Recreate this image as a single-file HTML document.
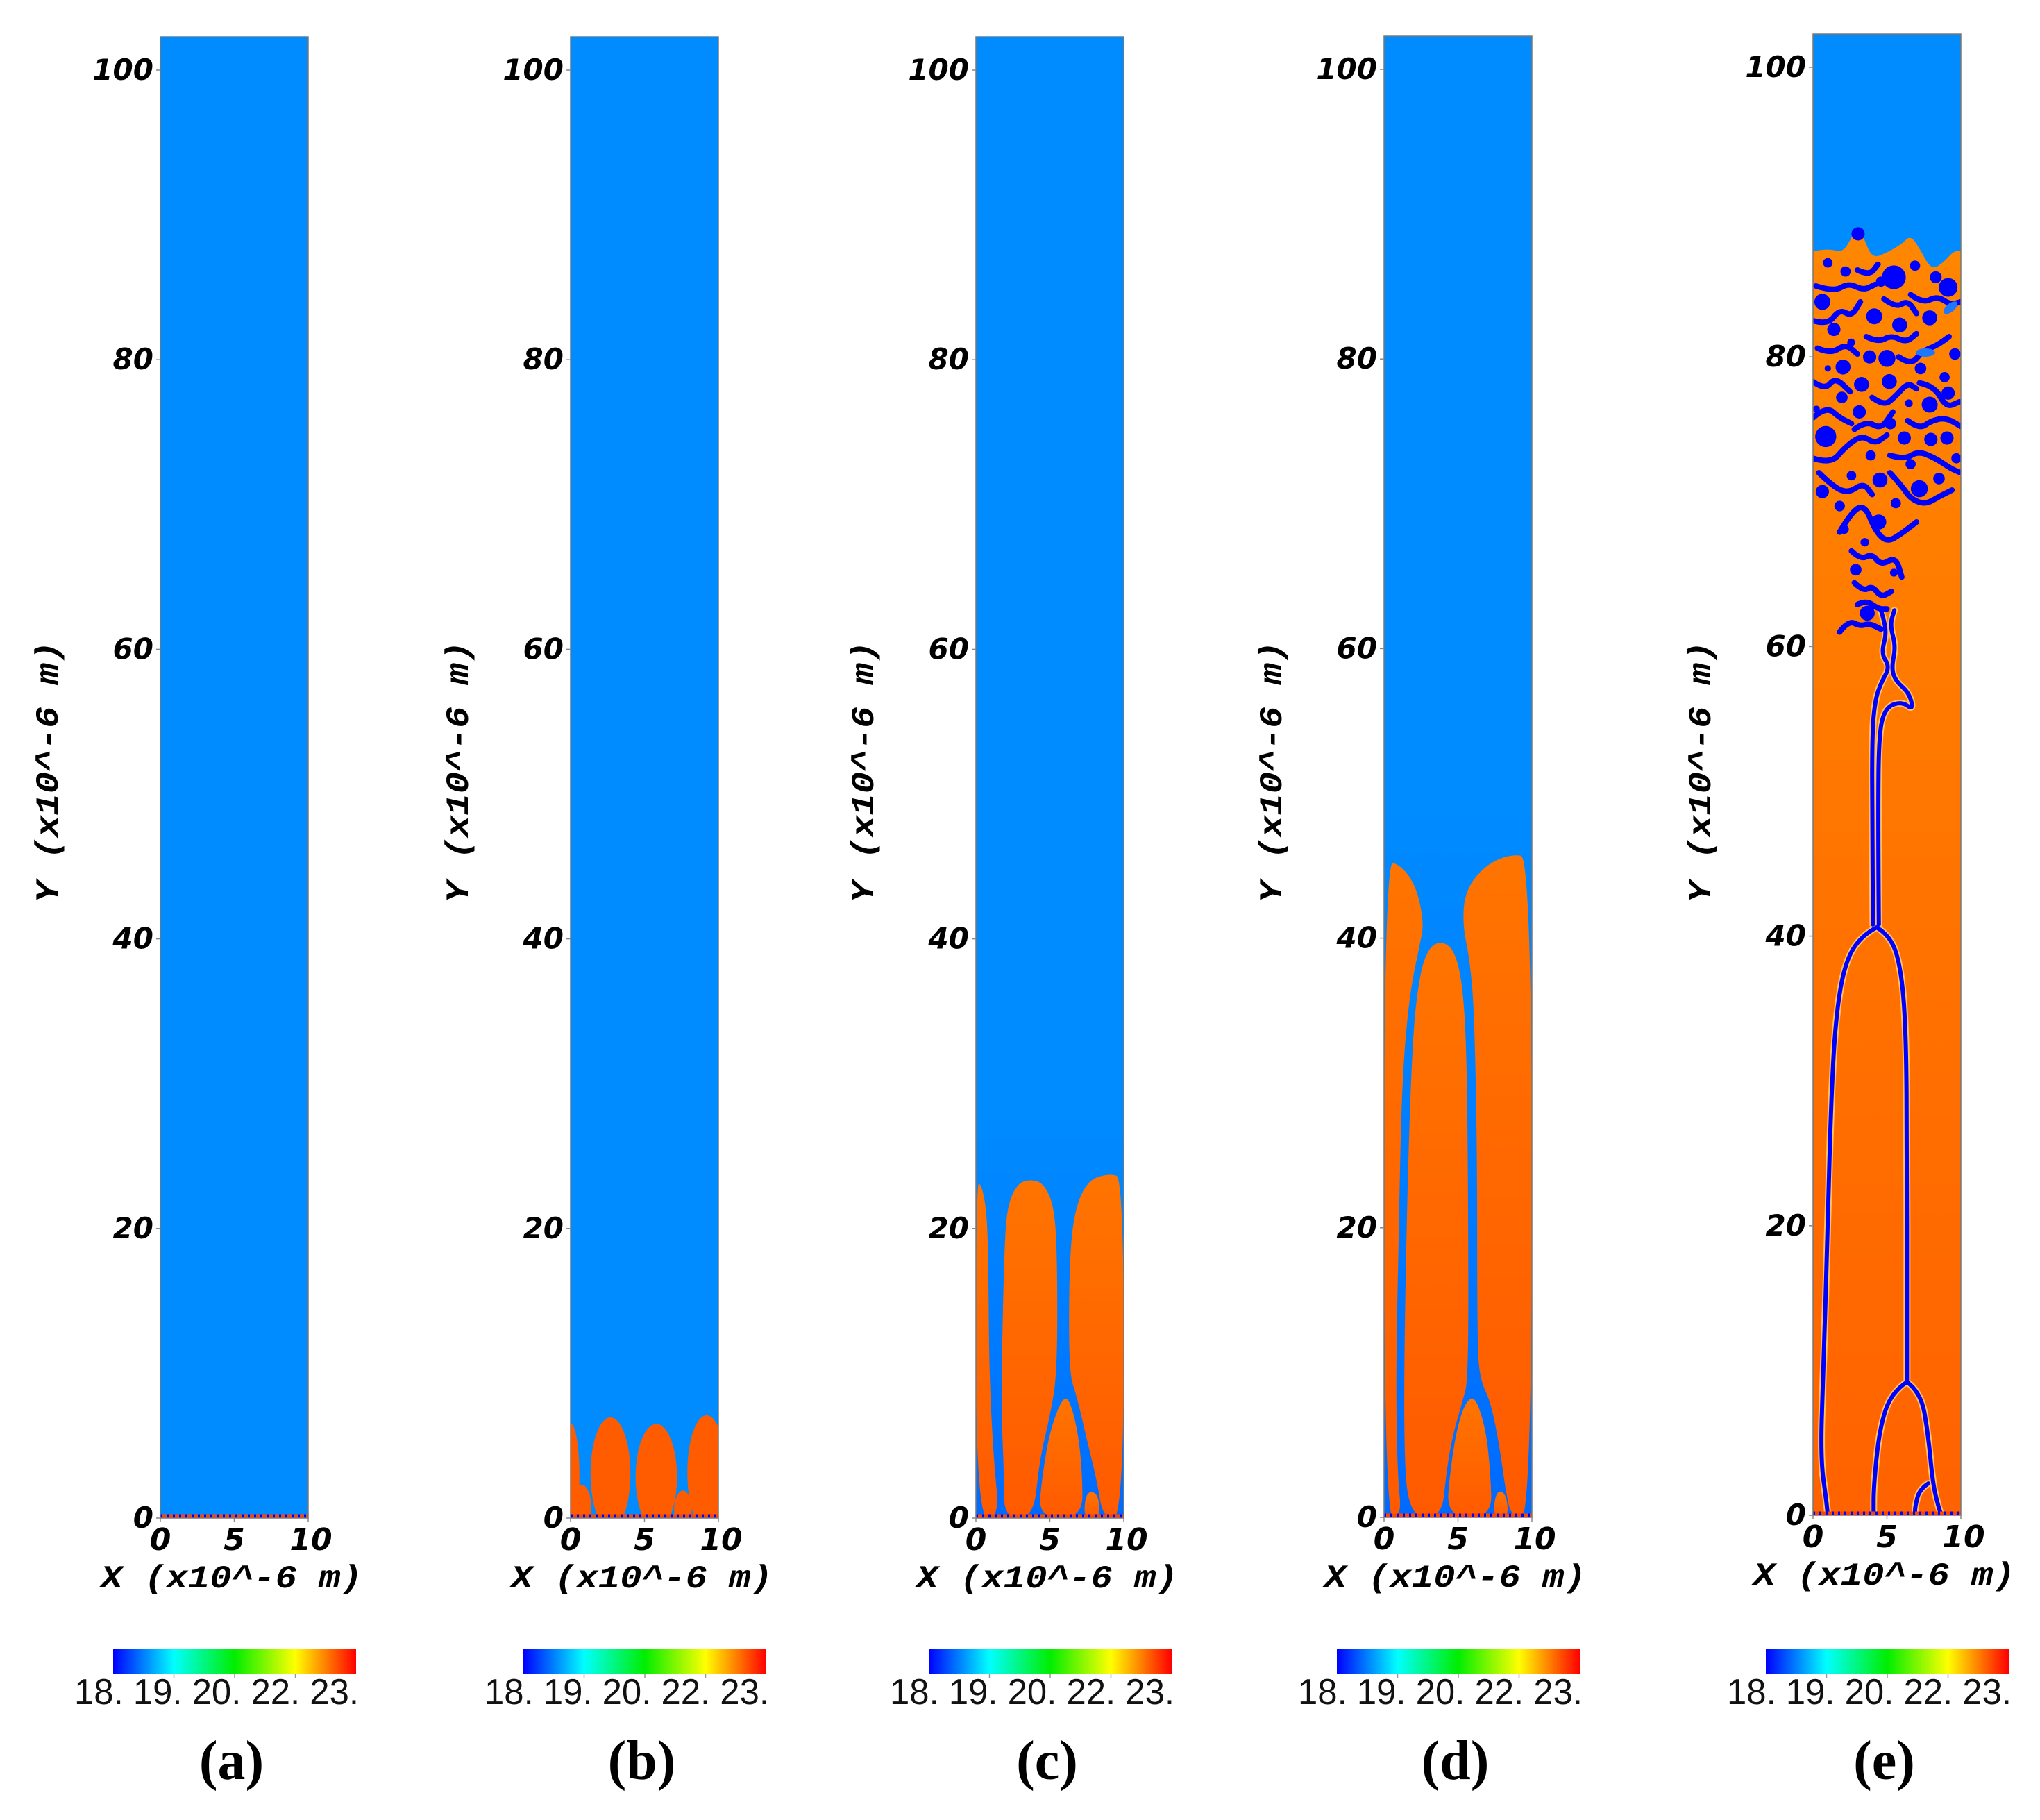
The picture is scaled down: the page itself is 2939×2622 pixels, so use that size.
<!DOCTYPE html>
<html><head><meta charset="utf-8">
<style>
html,body{margin:0;padding:0;background:#fff;}
svg{display:block;}
.yt{font-family:"DejaVu Sans",sans-serif;font-weight:bold;font-style:oblique;font-size:42px;fill:#000;}
.xt{font-family:"DejaVu Sans",sans-serif;font-weight:bold;font-style:oblique;font-size:44px;fill:#000;}
.at{font-family:"Liberation Mono",monospace;font-weight:bold;font-style:italic;font-size:46px;fill:#000;}
.cb{font-family:"Liberation Sans",sans-serif;font-size:52px;fill:#111;}
.pl{font-family:"Liberation Serif",serif;font-weight:bold;font-size:80px;fill:#000;}
</style></head>
<body>
<svg id="fig" xmlns="http://www.w3.org/2000/svg" width="2939" height="2622" viewBox="0 0 2939 2622">
<defs>
<linearGradient id="cmap" x1="0" x2="1" y1="0" y2="0">
<stop offset="0" stop-color="#0000ff"/><stop offset="0.25" stop-color="#00ffff"/>
<stop offset="0.5" stop-color="#00ee00"/><stop offset="0.75" stop-color="#ffff00"/>
<stop offset="1" stop-color="#ff0000"/></linearGradient>
<linearGradient id="orgC" x1="0" x2="0" y1="0" y2="1"><stop offset="0" stop-color="#ff7400"/><stop offset="1" stop-color="#ff5a00"/></linearGradient>
<linearGradient id="orgE" x1="0" x2="0" y1="0" y2="1"><stop offset="0" stop-color="#ff8c00"/><stop offset="1" stop-color="#ff6200"/></linearGradient>
<linearGradient id="blueFade" x1="0" x2="0" y1="0" y2="1"><stop offset="0" stop-color="#0070ff" stop-opacity="0"/><stop offset="1" stop-color="#0066ff" stop-opacity="0.9"/></linearGradient>
</defs>
</svg>
<script>
// ---- data ----
const yTicks=[0,20,40,60,80,100];
const xTicks=[0,5,10];
const cbLabels=["18.","19.","20.","22.","23."];
const panelLabels=["(a)","(b)","(c)","(d)","(e)"];
// panel b: fingers as [centerX, halfWidth, topY]
const fingersB=[[0,0.6,6.55],[2.7,1.35,6.95],[5.8,1.4,6.5],[9.2,1.3,7.1],[0.75,0.65,2.3],[7.6,0.6,1.9]];
// panel c outlines
const outC=[
 [[0,0],[1.6,0],[1.2,4],[0.9,10],[0.85,17],[0.75,21],[0.4,23],[0,23.2]],
 [[1.9,0],[3.9,0],[4.3,4],[5.0,7],[5.5,10],[5.5,18],[5.3,21.5],[4.6,23.1],[3.7,23.4],[2.8,23.1],[2.1,21.5],[1.9,18],[1.7,8],[1.9,3]],
 [[4.2,0],[7.2,0],[7.2,3],[6.9,6],[6.3,8.3],[5.8,8.2],[5.0,6],[4.5,3]],
 [[7.3,0],[8.4,0],[8.3,1.5],[7.8,1.9],[7.4,1.5]],
 [[8.6,0],[10,0],[10,23.5],[9,23.8],[7.5,23.3],[6.6,21],[6.3,17],[6.3,10],[6.8,8.5],[7.6,5],[8.2,2.5]]
];
// panel d outlines
const outD=[
 [[0,0],[1.2,0],[0.9,3],[0.8,10],[1.0,20],[1.2,30],[1.7,36],[2.4,39.5],[2.7,41],[2.2,43.5],[1.2,45],[0,45.4]],
 [[1.7,0],[3.9,0],[4.2,3],[4.6,5.5],[5.3,8],[5.7,9.5],[5.7,20],[5.6,32],[5.3,37],[4.7,39.3],[3.8,39.8],[3.0,39.3],[2.4,37.5],[1.9,33],[1.5,20],[1.3,5]],
 [[4.2,0],[7.3,0],[7.2,3],[6.9,6],[6.2,8.3],[5.6,8.1],[5.0,6.5],[4.5,3.5]],
 [[7.4,0],[8.4,0],[8.3,1.4],[7.9,1.9],[7.5,1.5]],
 [[8.6,0],[10,0],[10,45.6],[8.5,45.8],[6.8,45],[5.5,43.3],[5.3,41],[5.8,38.5],[6.1,35],[6.3,25],[6.3,12],[6.5,9.5],[7.2,8],[7.8,5],[8.2,2]]
];
// panel e: top interface, interface lines, bubbles [x,y,r], worms
const topE=[[0,87.3],[1,87.5],[2,87.2],[2.6,88.2],[3.0,89.1],[3.4,88.3],[4,86.8],[5,87.2],[6,87.8],[6.6,88.4],[7.2,87.5],[8,86],[8.8,86.5],[9.5,87.3],[10,87.3]];
// lower outline of the fragmented zone (left side going down, then right side going up)
const fragE=[[0,87],[0,70.5],[1.2,69.5],[1.8,67.5],[2.4,65],[2.5,62.5],[1.6,60.6],[2.8,61.2],[4.0,61.0],[4.4,58],[4.8,58],[5.2,61.5],[5.8,64.5],[6.6,67.5],[7.4,69.5],[8.8,70.6],[10,71],[10,87]];
const linesE=[
 [[4.3,40.6],[3.2,40],[2.1,38],[1.5,34],[1.2,28],[1.0,20],[0.7,10],[0.5,4],[0.9,1],[1.0,0]],
 [[4.3,40.6],[5.3,40],[6.0,37.5],[6.3,33],[6.35,25],[6.35,15],[6.35,9.2]],
 [[6.35,9.2],[5.3,8.5],[4.5,6],[4.1,2],[4.1,0]],
 [[6.35,9.2],[7.3,8.5],[7.8,5.5],[8.1,2.2],[8.5,0.5],[8.7,0]],
 [[7.8,2.2],[7.2,1.8],[6.9,0.6],[6.9,0]],
 [[4.05,40.8],[4.0,48],[4.0,54],[4.2,56.3],[4.6,57.5],[5.2,58.6],[4.6,59.5],[5.0,61],[4.6,62.5]],
 [[4.45,40.8],[4.4,48],[4.45,54],[4.9,55.8],[6.0,56.2],[6.8,55.6],[6.5,56.8],[5.6,57.6],[5.3,58.5],[5.6,60],[5.2,61.5],[5.5,62.5]]
];
const bubblesE=[[3.05,88.5,0.39],[5.47,85.5,0.7],[9.14,84.8,0.55],[0.63,83.8,0.47],[4.14,82.8,0.47],[5.86,82.2,0.44],[1.41,81.9,0.39],[7.89,82.7,0.44],[5.0,79.9,0.5],[3.83,80,0.39],[2.03,79.3,0.44],[9.6,80.2,0.34],[3.28,78.1,0.44],[7.27,79.2,0.34],[5.16,78.3,0.44],[9.14,77.5,0.39],[7.89,76.7,0.47],[1.95,77.2,0.34],[3.13,76.2,0.39],[0.86,74.5,0.62],[5.23,75.4,0.34],[6.17,74.4,0.39],[7.97,74.3,0.39],[9.06,74.4,0.39],[4.53,71.5,0.44],[7.19,70.9,0.5],[0.63,70.7,0.39],[8.52,71.6,0.34],[1.8,69.7,0.31],[4.45,68.6,0.44],[2.89,65.3,0.34],[3.67,62.3,0.44],[5.47,65.1,0.23],[2.1,68.1,0.28],[0.23,76.4,0.2],[6.48,76.8,0.23],[2.58,81,0.23],[1.0,79.2,0.19],[6.9,86.3,0.3],[8.3,85.5,0.35],[4.6,85.2,0.3],[2.2,85.9,0.3],[1.0,86.5,0.28],[3.9,73.2,0.3],[6.6,72.6,0.3],[2.6,71.8,0.28],[5.6,69.9,0.3],[3.5,67.2,0.25],[9.7,73.0,0.3],[8.9,78.6,0.3]];
const wormsE=[
 [[0,82.5],[1.0,82.2],[1.8,83.3],[2.6,82.8],[3.2,83.8]],
 [[0.3,80.6],[1.2,80.2],[2.2,80.9],[3.0,80.2]],
 [[3.6,81.4],[4.4,81.0],[5.3,81.5],[6.3,81.0],[7.0,81.6]],
 [[6.6,84.3],[7.4,83.7],[8.4,84.2],[9.3,83.6],[10,83.8]],
 [[0,78.3],[0.8,77.7],[1.5,78.6],[2.5,77.6]],
 [[4.0,77.2],[4.8,76.6],[5.6,77.3],[6.4,78.2],[7.0,77.8]],
 [[7.2,78.2],[8.2,78.0],[9.0,76.5],[9.9,76.9]],
 [[0,73.0],[1.2,72.6],[2.2,73.8],[3.3,74.6],[4.2,74.0],[5.0,74.6]],
 [[5.2,73.2],[6.2,72.9],[7.1,73.5],[8.3,73.0],[9.3,72.3],[10,72.0]],
 [[0.4,72.0],[1.4,71.0],[2.4,70.6],[3.4,71.3],[4.0,70.5]],
 [[5.2,72.0],[6.0,71.1],[6.6,70.2],[7.6,69.8],[8.6,70.4],[9.4,70.8]],
 [[1.8,67.9],[2.6,69.3],[3.5,69.8],[4.2,68.0],[5.0,67.2],[6.0,67.8],[7.0,68.6]],
 [[2.6,66.6],[3.2,66.0],[4.0,66.4],[4.6,65.6],[5.6,66.2],[6.0,64.8]],
 [[2.8,64.4],[3.4,63.8],[4.0,64.2],[4.6,63.4],[5.3,63.8]],
 [[1.8,61.0],[2.4,61.8],[3.2,61.4],[3.8,61.6],[4.6,61.2]],
 [[3.0,62.9],[3.6,63.2],[4.4,62.6],[5.0,62.6]],
 [[0.2,84.9],[1.4,84.5],[2.4,85.1],[3.4,84.6],[4.2,85.0]],
 [[0,75.8],[0.9,76.6],[1.8,75.8],[2.6,75.4]],
 [[4.8,84.0],[5.6,83.4],[6.4,83.9],[7.0,83.0]],
 [[5.8,80.0],[6.6,79.4],[7.4,80.4],[8.4,80.8],[9.2,81.4]],
 [[2.8,75.0],[3.6,75.6],[4.6,75.0],[5.4,76.2]],
 [[6.4,75.6],[7.2,75.0],[8.0,75.6],[9.0,75.8],[10,75.2]],
 [[3.0,86.0],[3.8,85.6],[4.4,86.4]]
];
// ---- layout ----
const panels=[{L:231,Y0:2187},{L:822,Y0:2187},{L:1406,Y0:2187},{L:1994,Y0:2186},{L:2612,Y0:2183}];
const W=213, PXY=20.86, YMAX=102.3;
const NS="http://www.w3.org/2000/svg";
const svg=document.getElementById('fig');
function mk(tag,attrs,parent){const e=document.createElementNS(NS,tag);for(const k in attrs)e.setAttribute(k,attrs[k]);(parent||svg).appendChild(e);return e;}
function smooth(pts,sx,sy,closed){
 const P=pts.map(p=>[sx(p[0]),sy(p[1])]);
 let d='M'+P[0][0].toFixed(1)+','+P[0][1].toFixed(1);
 if(closed){
  const n=P.length;d='M'+((P[0][0]+P[1][0])/2).toFixed(1)+','+((P[0][1]+P[1][1])/2).toFixed(1);
  for(let i=1;i<=n;i++){const a=P[i%n],b=P[(i+1)%n];d+=' Q'+a[0].toFixed(1)+','+a[1].toFixed(1)+' '+((a[0]+b[0])/2).toFixed(1)+','+((a[1]+b[1])/2).toFixed(1);}
  return d+'Z';
 }
 for(let i=1;i<P.length-1;i++){const a=P[i],b=P[i+1];d+=' Q'+a[0].toFixed(1)+','+a[1].toFixed(1)+' '+((a[0]+b[0])/2).toFixed(1)+','+((a[1]+b[1])/2).toFixed(1);}
 const l=P[P.length-1];d+=' L'+l[0].toFixed(1)+','+l[1].toFixed(1);return d;
}
panels.forEach((p,i)=>{
 const sx=x=>p.L+x*W/10, sy=y=>p.Y0-y*PXY;
 const top=sy(YMAX);
 const g=mk('g',{});
 
 
 const clipId='clip'+i;
 const cp=mk('clipPath',{id:clipId},g);mk('rect',{x:p.L,y:top,width:W,height:p.Y0-top},cp);
 const plot=mk('g',{'clip-path':'url(#'+clipId+')'},g);
 
 
 const bg=mk('rect',{x:p.L,y:top,width:W,height:p.Y0-top,fill:'#008cff'},plot);
 
 
 if(i===1){
  fingersB.forEach(f=>{const ry=f[2]/2+0.4;const e=mk('ellipse',{cx:sx(f[0]),cy:sy(f[2]-ry),rx:f[1]*W/10,ry:ry*PXY,fill:'#ff5c00'},plot);
   
   });
 }
 if(i===2||i===3){
  const outs=i===2?outC:outD;
  const h=i===2?23:45;
  mk('rect',{x:p.L,y:sy(h+6),width:W,height:(h+6)*PXY,fill:'url(#blueFade)'},plot);
  outs.forEach(o=>{const e=mk('path',{d:smooth(o,sx,sy,true),fill:'url(#orgC)'},plot);
   
   });
 }
 if(i===4){
  bg.setAttribute('fill','url(#orgE)');
  const sm=smooth(topE,sx,sy,false);
  const tv=mk('path',{d:'M'+sx(0)+','+sy(YMAX+2)+' L'+sm.slice(1)+' L'+sx(10)+','+sy(YMAX+2)+'Z',fill:'#008cff'},plot);
  
  
  const fz=mk('path',{d:smooth(fragE,sx,sy,true),fill:'#ff8c00',stroke:'#0000ff','stroke-width':3,opacity:0.0},plot);
  linesE.forEach(l=>{mk('path',{d:smooth(l,sx,sy,false),fill:'none',stroke:'#ffc060',"stroke-width":10,'stroke-linecap':'round','stroke-linejoin':'round'},plot);});
  linesE.forEach(l=>{const e=mk('path',{d:smooth(l,sx,sy,false),fill:'none',stroke:'#0000ff',"stroke-width":6,'stroke-linecap':'round','stroke-linejoin':'round'},plot);
   
   });
  wormsE.forEach(l=>{const e=mk('path',{d:smooth(l,sx,sy,false),fill:'none',stroke:'#0000ff',"stroke-width":8,'stroke-linecap':'round','stroke-linejoin':'round'},plot);
   
   });
  bubblesE.forEach(b=>{const e=mk('circle',{cx:sx(b[0]),cy:sy(b[1]),r:b[2]*W/10*1.15,fill:'#0000ff'},plot);
   
   });
  mk('ellipse',{cx:sx(9.3),cy:sy(83.4),rx:12,ry:6,fill:'#1e78ff',transform:'rotate(-40 '+sx(9.3)+' '+sy(83.4)+')'},plot);
  mk('ellipse',{cx:sx(7.6),cy:sy(80.3),rx:14,ry:6,fill:'#1e78ff'},plot);
 }
 // bottom heater strip
 mk('line',{x1:p.L,x2:p.L+W,y1:p.Y0-3,y2:p.Y0-3,stroke:'#ff4400','stroke-width':5},plot);
 mk('line',{x1:p.L,x2:p.L+W,y1:p.Y0-3,y2:p.Y0-3,stroke:'#0000ff','stroke-width':5,'stroke-dasharray':'3 6'},plot);
 const fr=mk('rect',{x:p.L,y:top,width:W,height:p.Y0-top,fill:'none',stroke:'#777','stroke-width':1.5},g);
 
 
 yTicks.forEach(v=>{
  mk('line',{x1:p.L-6,x2:p.L,y1:sy(v),y2:sy(v),stroke:'#888','stroke-width':1.5},g);
  const t=mk('text',{x:p.L-10,y:sy(v)+14,'text-anchor':'end',class:'yt'},g);t.textContent=v;
  
  
 });
 xTicks.forEach(v=>{
  mk('line',{x1:sx(v),x2:sx(v),y1:p.Y0,y2:p.Y0+6,stroke:'#888','stroke-width':1.5},g);
  const t=mk('text',{x:sx(v)+(v===10?4:0),y:p.Y0+46,'text-anchor':'middle',class:'xt'},g);t.textContent=v;
  
  
 });
 const xt=mk('text',{x:p.L-86,y:p.Y0+100,class:'at',textLength:377,lengthAdjust:'spacingAndGlyphs'},g);xt.textContent='X (x10^-6 m)';
 
 
 const cx=p.L-148;
 const yt=mk('text',{x:cx,y:1112,class:'at',textLength:377,lengthAdjust:'spacingAndGlyphs','text-anchor':'middle',transform:'rotate(-90 '+cx+' 1112)'},g);yt.textContent='Y (x10^-6 m)';
 
 
 const cbx=p.L-68, cby=2376;
 const cb=mk('rect',{x:cbx,y:cby,width:350,height:35,fill:'url(#cmap)'},g);
 
 
 [0.25,0.5,0.75].forEach(f=>mk('line',{x1:cbx+350*f,x2:cbx+350*f,y1:cby+35,y2:cby+42,stroke:'#999','stroke-width':1.5},g));
 const cl=mk('text',{x:cbx-56,y:2455,class:'cb',textLength:410,lengthAdjust:'spacingAndGlyphs'},g);cl.textContent=cbLabels.join(' ');
 
 
 const pl=mk('text',{x:p.L+W/2-4,y:2563,'text-anchor':'middle',class:'pl'},g);pl.textContent=panelLabels[i];
 
 
});
</script>
</body></html>
